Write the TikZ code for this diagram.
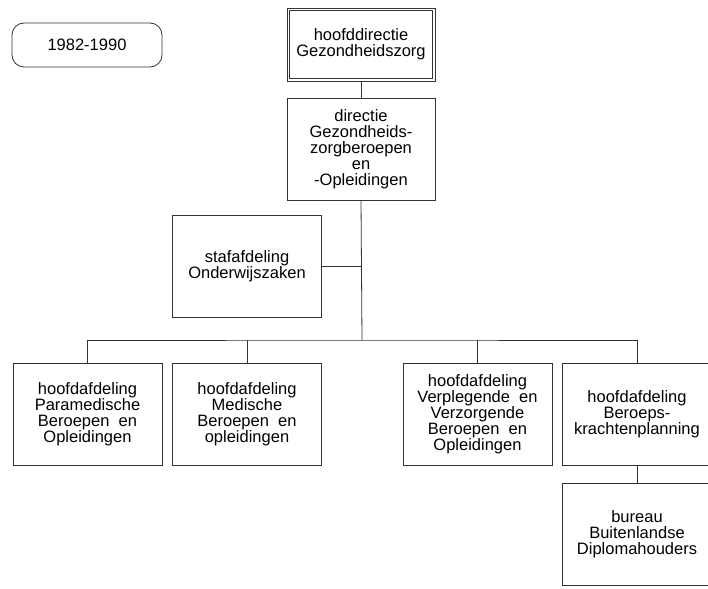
\documentclass[tikz,border=0pt]{standalone}
\usepackage{fontspec}
\setmainfont{Liberation Sans}
\tikzset{
    unit/.style={draw=black!80, line width=0.8pt, minimum width=149pt, minimum height=102pt,
        inner sep=0pt, align=center, font=\fontsize{16.5}{16}\selectfont},
    line/.style={draw=black!80, line width=0.8pt}
}
\begin{document}
\begin{tikzpicture}[x=1pt, y=-1pt]
    \useasboundingbox (0,0) rectangle (708,588);
    \clip (0,0) rectangle (708,588);
    \node[draw=black!80, line width=0.8pt, rounded corners=12pt, minimum width=150pt, minimum height=44pt,
        font=\fontsize{16.5}{16}\selectfont] (period) at (87,45) {1982-1990};
    \node[unit, minimum width=148pt, minimum height=73pt] (hoofd) at (361,44.5)
        {hoofddirectie\\Gezondheidszorg};
    \draw[line] ([xshift=3pt,yshift=-3pt]hoofd.north west) rectangle ([xshift=-3pt,yshift=3pt]hoofd.south east);
    \node[unit, minimum width=148pt] (dir) at (361,149)
        {directie\\Gezondheids-\\zorgberoepen\\en\\-Opleidingen};
    \node[unit] (staf) at (247,266) {stafafdeling\\Onderwijszaken};
    \node[unit] (para) at (87.5,414) {hoofdafdeling\\Paramedische\\Beroepen~ en\\Opleidingen};
    \node[unit] (med) at (247,414) {hoofdafdeling\\Medische\\Beroepen~ en\\opleidingen};
    \node[unit] (verpl) at (477.5,414) {hoofdafdeling\\Verplegende~ en\\Verzorgende\\Beroepen~ en\\Opleidingen};
    \node[unit] (kracht) at (637,414) {hoofdafdeling\\Beroeps-\\krachtenplanning};
    \node[unit] (buit) at (637,534) {bureau\\Buitenlandse\\Diplomahouders};
    \coordinate (bus) at (362,340);
    \draw[line] (hoofd.south) -- (dir.north);
    \draw[line] (dir.south) -- (bus);
    \draw[line] (staf.east) -- (staf.east -| bus);
    \draw[line] (para.north) |- (bus) -| (kracht.north);
    \draw[line] (med.north) -- (med.north |- bus);
    \draw[line] (verpl.north) -- (verpl.north |- bus);
    \draw[line] (kracht.south) -- (buit.north);
\end{tikzpicture}
\end{document}
